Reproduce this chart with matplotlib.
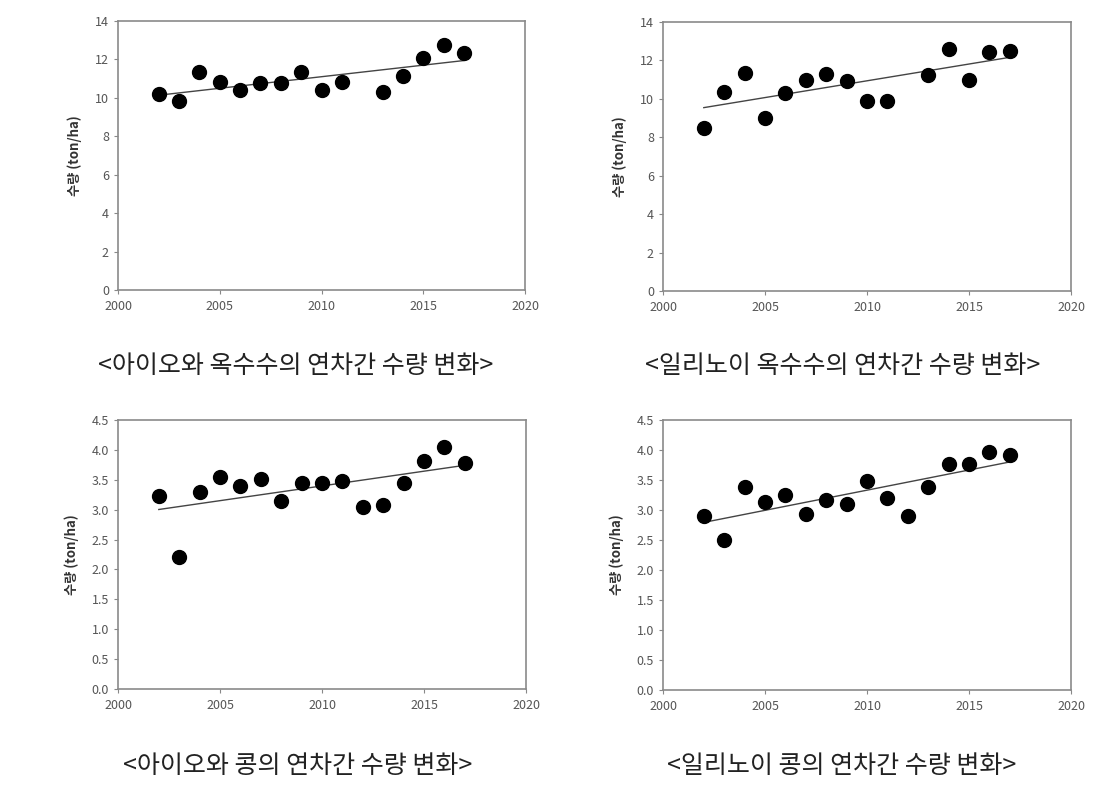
import numpy as np
import matplotlib
matplotlib.use("Agg")
import matplotlib.pyplot as plt

plt.rcParams['font.family'] = ['Noto Sans CJK KR', 'DejaVu Sans']

# Panel 1: Iowa corn
iowa_corn_years = [2002, 2003, 2004, 2005, 2006, 2007, 2008, 2009, 2010, 2011, 2013, 2014, 2015, 2016, 2017]
iowa_corn_yield = [10.2, 9.85, 11.35, 10.85, 10.4, 10.75, 10.75, 11.35, 10.4, 10.8, 10.3, 11.15, 12.05, 12.75, 12.35]
# Panel 2: Illinois corn
ill_corn_years = [2002, 2003, 2004, 2005, 2006, 2007, 2008, 2009, 2010, 2011, 2013, 2014, 2015, 2016, 2017]
ill_corn_yield = [8.5, 10.35, 11.35, 9.0, 10.3, 11.0, 11.3, 10.95, 9.9, 9.9, 11.25, 12.6, 11.0, 12.45, 12.5]
# Panel 3: Iowa soybean
iowa_soy_years = list(range(2002, 2018))
iowa_soy_yield = [3.23, 2.2, 3.3, 3.55, 3.4, 3.52, 3.15, 3.45, 3.45, 3.48, 3.05, 3.08, 3.45, 3.82, 4.05, 3.78]
# Panel 4: Illinois soybean
ill_soy_years = list(range(2002, 2018))
ill_soy_yield = [2.9, 2.5, 3.38, 3.13, 3.25, 2.93, 3.17, 3.1, 3.48, 3.2, 2.9, 3.38, 3.77, 3.77, 3.97, 3.92]

captions = ["<아이오와 옥수수의 연차간 수량 변화>",
            "<일리노이 옥수수의 연차간 수량 변화>",
            "<아이오와 콩의 연차간 수량 변화>",
            "<일리노이 콩의 연차간 수량 변화>"]
ylabel = "수량 (ton/ha)"
x_ticks = [2000, 2005, 2010, 2015, 2020]
corn_ticks = [0, 2, 4, 6, 8, 10, 12, 14]
soy_ticks = [0.0, 0.5, 1.0, 1.5, 2.0, 2.5, 3.0, 3.5, 4.0, 4.5]

W, H = 1118, 787
fig = plt.figure(figsize=(W / 100, H / 100), dpi=100)

panels = [
    (iowa_corn_years, iowa_corn_yield, corn_ticks, "{:.0f}", (118, 21, 525, 290), (296, 366)),
    (ill_corn_years, ill_corn_yield, corn_ticks, "{:.0f}", (663, 22, 1071, 291), (843, 366)),
    (iowa_soy_years, iowa_soy_yield, soy_ticks, "{:.1f}", (118, 420, 526, 689), (298, 766)),
    (ill_soy_years, ill_soy_yield, soy_ticks, "{:.1f}", (663, 420, 1071, 690), (842, 766)),
]

for i, (yrs, vals, yt, fmt, box, cap) in enumerate(panels):
    l, t, r, b = box
    ax = fig.add_axes([l / W, 1 - b / H, (r - l) / W, (b - t) / H])
    ax.scatter(yrs, vals, s=100, color='black', zorder=3)
    coef = np.polyfit(yrs, vals, 1)
    xs = np.array([yrs[0], yrs[-1]])
    ax.plot(xs, np.polyval(coef, xs), color='#444444', lw=1.0, zorder=2)
    ax.set_xlim(2000, 2020)
    ax.set_ylim(yt[0], yt[-1])
    ax.set_xticks(x_ticks)
    ax.set_yticks(yt)
    ax.set_yticklabels([fmt.format(v) for v in yt])
    ax.tick_params(axis='both', labelsize=9, colors='#888888', labelcolor='#555555',
                   direction='out', length=3, width=0.8)
    ax.tick_params(axis='x', pad=4)
    for s in ax.spines.values():
        s.set_color('#8a8a8a')
        s.set_linewidth(1.2)
    ax.set_ylabel(ylabel, fontsize=9.5, fontweight='bold', color='#333333', labelpad=9)
    fig.text(cap[0] / W, 1 - cap[1] / H, captions[i], ha='center', va='center',
             fontsize=18, color='#222222', fontweight='light')

fig.savefig("out.png", dpi=100, facecolor='white')
